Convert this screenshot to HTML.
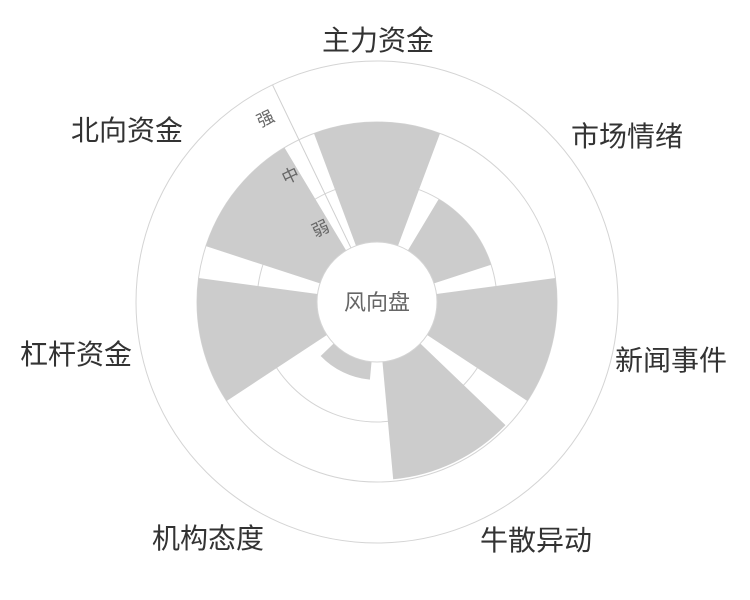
<!DOCTYPE html>
<html><head><meta charset="utf-8"><style>
html,body{margin:0;padding:0;background:#fff;width:750px;height:600px;overflow:hidden}
svg text{font-family:"Liberation Sans","Noto Sans CJK SC",sans-serif}
</style></head><body>
<svg id="s" width="750" height="600" viewBox="0 0 750 600">
<g id="grid" fill="none" stroke="#d4d4d4" stroke-width="1">
<circle cx="377" cy="302" r="241"/>
<circle cx="377" cy="302" r="180"/>
<circle cx="377" cy="302" r="120"/>
</g>
<g id="bars"></g>
<line id="ax" stroke="#cfcfcf" stroke-width="1"/>
<circle cx="377" cy="302" r="60" fill="#fff" stroke="#d4d4d4"/>
<text x="377" y="310" font-size="22" fill="#666" text-anchor="middle">风向盘</text>
<g font-size="17" fill="#666" text-anchor="middle">
<text transform="translate(268,124) rotate(-25.7)">强</text>
<text transform="translate(293,181) rotate(-25.7)">中</text>
<text transform="translate(323,234) rotate(-25.7)">弱</text>
</g>
<g font-size="28" fill="#333" text-anchor="middle">
<text x="378" y="50">主力资金</text>
<text x="627" y="146">市场情绪</text>
<text x="671" y="370">新闻事件</text>
<text x="536" y="550">牛散异动</text>
<text x="208" y="548">机构态度</text>
<text x="76" y="364">杠杆资金</text>
<text x="127" y="140">北向资金</text>
</g>
</svg>
<script>
var cx=377,cy=302;
function pt(r,a){a=a*Math.PI/180;return [cx+r*Math.sin(a),cy-r*Math.cos(a)];}
function sec(r0,r1,a0,a1){var p1=pt(r1,a0),p2=pt(r1,a1),p3=pt(r0,a1),p4=pt(r0,a0);
return "M"+p1+" A"+r1+" "+r1+" 0 0 1 "+p2+" L"+p3+" A"+r0+" "+r0+" 0 0 0 "+p4+"Z";}
var vals=[180,120,180,178,78,180,180],s="";
for(var i=0;i<7;i++){var c=i*360/7;
s+='<path d="'+sec(60,vals[i],c-20.5,c+20.5)+'" fill="#cccccc"/>';}
document.getElementById("bars").innerHTML=s;
var a=pt(60,-25.7),b=pt(241,-25.7),l=document.getElementById("ax");
l.setAttribute("x1",a[0]);l.setAttribute("y1",a[1]);l.setAttribute("x2",b[0]);l.setAttribute("y2",b[1]);
</script>
</body></html>
